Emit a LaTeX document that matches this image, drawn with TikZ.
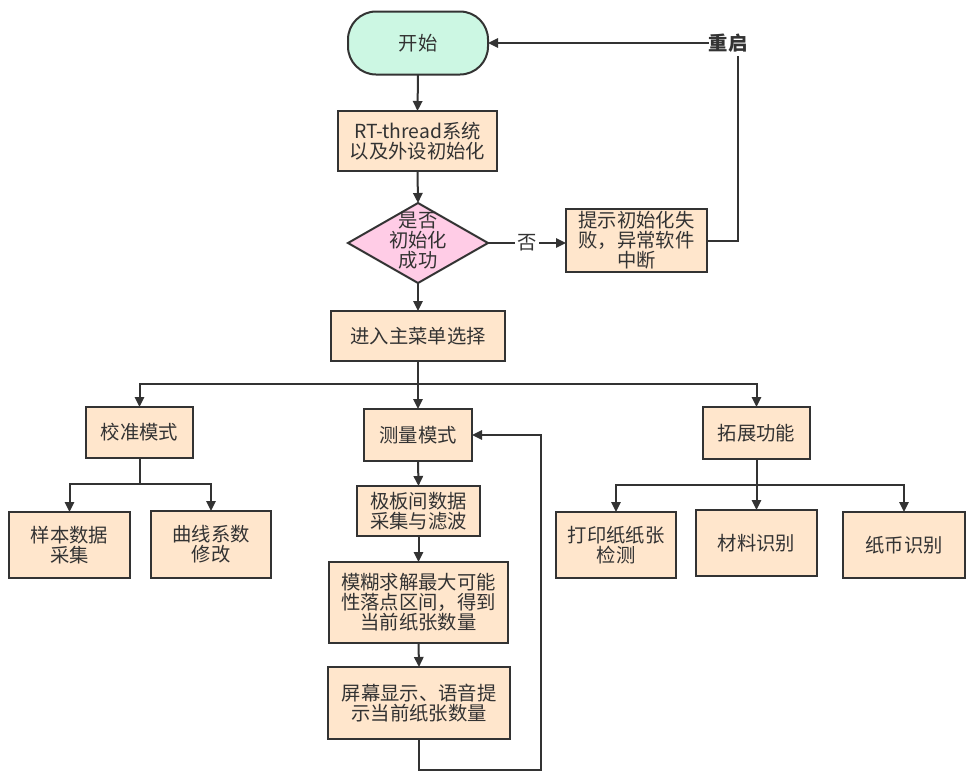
\documentclass[tikz,border=0pt]{standalone}
\usepackage{fontspec}
\setmainfont{Noto Sans CJK SC}
\usetikzlibrary{arrows.meta,shapes.geometric}
\definecolor{peach}{HTML}{FFE6CC}
\definecolor{pinkf}{HTML}{FFCCE6}
\definecolor{mint}{HTML}{CCF7E3}
\definecolor{ink}{HTML}{333333}
\tikzset{
  every node/.style={font=\fontsize{14.5pt}{15pt}\selectfont, text=ink, align=center, inner sep=0pt, outer sep=0pt},
  box/.style={draw=ink, line width=1.5pt, fill=peach},
  arr/.style={draw=ink, line width=1.5pt, -{Triangle[length=7.5pt,width=7pt]}},
  ln/.style={draw=ink, line width=1.5pt},
}
\begin{document}
\begin{tikzpicture}[x=0.75pt,y=-0.75pt]
\fill[white] (0,0) rectangle (973,776);
\useasboundingbox (0,0) rectangle (973,776);

\node[draw=ink, line width=1.5pt, fill=mint, rounded corners=21pt, minimum width=105pt, minimum height=47.25pt] (start) at (418,43) {开始};
\node[box, minimum width=119.25pt, minimum height=45pt] (rt) at (417.5,141) {RT-thread系统\\以及外设初始化};
\node[diamond, draw=ink, line width=1.5pt, fill=pinkf, minimum width=105pt, minimum height=60pt] (dia) at (418,243) {};
\node (diat) at (418,241) {是否\\初始化\\成功};
\node[box, minimum width=105.75pt, minimum height=47.25pt] (fail) at (636.5,240.5) {提示初始化失\\败，异常软件\\中断};
\node[font=\fontsize{14.5pt}{15pt}\selectfont\bfseries] (restart) at (728,43) {重启};
\coordinate (rs) at (738,56);

\node[box, minimum width=130.5pt, minimum height=37.5pt] (menu) at (418,336) {进入主菜单选择};
\coordinate (b1) at (418,384);

\node[box, minimum width=80.25pt, minimum height=38.25pt] (jz) at (139.5,432.5) {校准模式};
\node[box, minimum width=81pt, minimum height=39pt] (cl) at (418,435) {测量模式};
\node[box, minimum width=80.25pt, minimum height=39pt] (tz) at (756.5,433) {拓展功能};

\coordinate (b2) at (139.5,484);
\node[box, minimum width=90.75pt, minimum height=49.5pt] (yb) at (69.5,545) {样本数据\\采集};
\node[box, minimum width=90pt, minimum height=50.25pt] (qx) at (211,544.5) {曲线系数\\修改};

\node[box, minimum width=92.25pt, minimum height=37.5pt] (jb) at (418.5,511) {极板间数据\\采集与滤波};
\node[box, minimum width=134.25pt, minimum height=60.75pt] (mh) at (418.5,602.5) {模糊求解最大可能\\性落点区间，得到\\当前纸张数量};
\node[box, minimum width=136.5pt, minimum height=54pt] (pm) at (419,703) {屏幕显示、语音提\\示当前纸张数量};
\coordinate (lp1) at (541,770);

\coordinate (b3) at (756.5,485);
\node[box, minimum width=90pt, minimum height=49.5pt] (dy) at (616,545) {打印纸纸张\\检测};
\node[box, minimum width=90.75pt, minimum height=49.5pt] (cs) at (756.5,543) {材料识别};
\node[box, minimum width=91.5pt, minimum height=49.5pt] (zb) at (904,545) {纸币识别};

% connectors
\draw[arr] (start.south) -- (rt.north);
\draw[arr] (rt.south) -- (dia.north);
\draw[arr] (dia.east) -- node[fill=white, inner xsep=2pt, inner ysep=1pt] (no) {否} (dia.east -| fail.west);
\draw[ln] (fail.east) -| (rs);
\draw[arr] (restart.west) -- (start.east);
\draw[arr] (dia.south) -- (menu.north);
\draw[arr] (menu.south) -- (cl.north);
\draw[arr] (b1) -| (jz.north);
\draw[arr] (b1) -| (tz.north);
\draw[ln] (jz.south) -- (b2);
\draw[arr] (b2) -| (yb.north);
\draw[arr] (b2) -| (qx.north);
\draw[arr] (cl.south) -- (jb.north);
\draw[arr] (jb.south) -- (mh.north);
\draw[arr] (mh.south) -- (pm.north);
\draw[arr] (pm.south) |- (lp1) |- (cl.east);
\draw[ln] (tz.south) -- (b3);
\draw[arr] (b3) -| (dy.north);
\draw[arr] (b3) -- (cs.north);
\draw[arr] (b3) -| (zb.north);
\end{tikzpicture}
\end{document}
